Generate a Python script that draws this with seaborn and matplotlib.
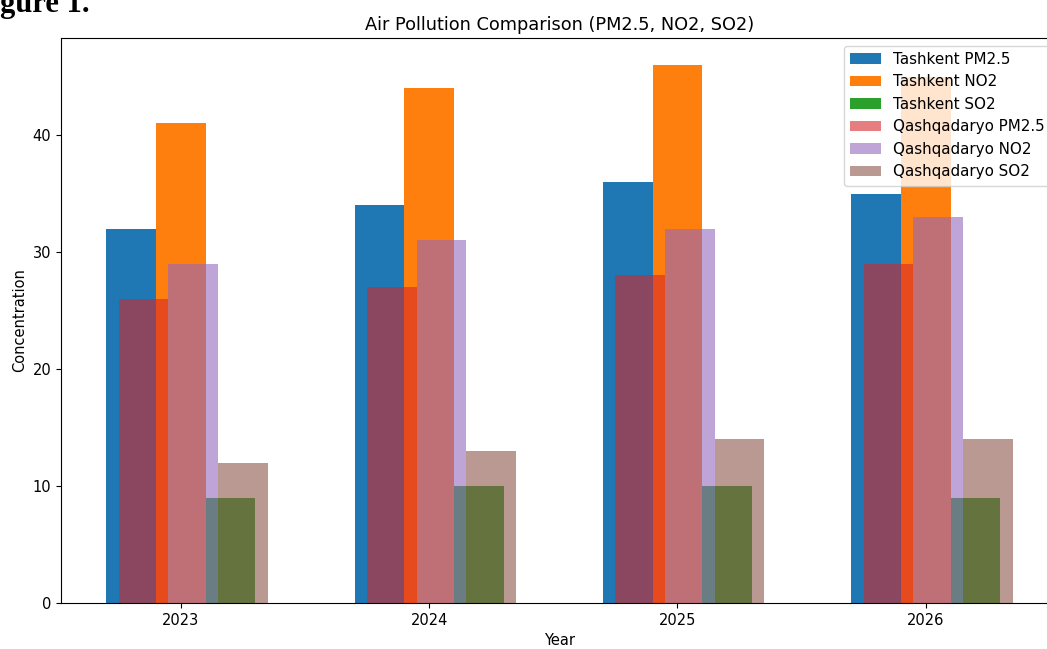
import matplotlib
matplotlib.use("Agg")
import matplotlib.pyplot as plt
import seaborn as sns
import pandas as pd

years = [2023, 2024, 2025, 2026]
tashkent_pm25 = [32, 34, 36, 35]
tashkent_no2 = [41, 44, 46, 45]
tashkent_so2 = [9, 10, 10, 9]
qashqadaryo_pm25 = [26, 27, 28, 29]
qashqadaryo_no2 = [29, 31, 32, 33]
qashqadaryo_so2 = [12, 13, 14, 14]

series = [
    ("Tashkent PM2.5", tashkent_pm25, -0.2, "#1f77b4", 1.0),
    ("Tashkent NO2", tashkent_no2, 0.0, "#ff7f0e", 1.0),
    ("Tashkent SO2", tashkent_so2, 0.2, "#2ca02c", 1.0),
    ("Qashqadaryo PM2.5", qashqadaryo_pm25, -0.15, "#d62728", 0.6),
    ("Qashqadaryo NO2", qashqadaryo_no2, 0.05, "#9467bd", 0.6),
    ("Qashqadaryo SO2", qashqadaryo_so2, 0.25, "#8c564b", 0.6),
]

fig = plt.figure(figsize=(10.47, 6.49), dpi=100)
fig.patch.set_facecolor("white")
W, H = 1047, 649
ax = fig.add_axes([61 / W, 1 - 603 / H, 997 / W, (603 - 38) / H])

for label, vals, off, col, a in series:
    df = pd.DataFrame({"pos": [y + off for y in years], "value": vals})
    sns.barplot(data=df, x="pos", y="value", native_scale=True, width=0.2,
                color=col, saturation=1, alpha=a, errorbar=None,
                linewidth=0, edgecolor="none", label=label, ax=ax)

ax.set_xticks(years)
ax.set_xticklabels([str(y) for y in years], fontsize=10.5)
ax.set_yticks([0, 10, 20, 30, 40])
ax.tick_params(axis="y", labelsize=10.5)
ax.set_xlabel("Year", fontsize=10.5)
ax.set_ylabel("Concentration", fontsize=10.5)
ax.set_title("Air Pollution Comparison (PM2.5, NO2, SO2)", fontsize=12.8)
ax.legend(loc="upper right", fontsize=10.9)

fig.text(-27 / W, 1 - 12 / H, "Figure 1.", fontfamily="Liberation Serif",
         fontweight="bold", fontsize=22, va="baseline", ha="left")

fig.savefig("out.png", dpi=100, facecolor="white")
